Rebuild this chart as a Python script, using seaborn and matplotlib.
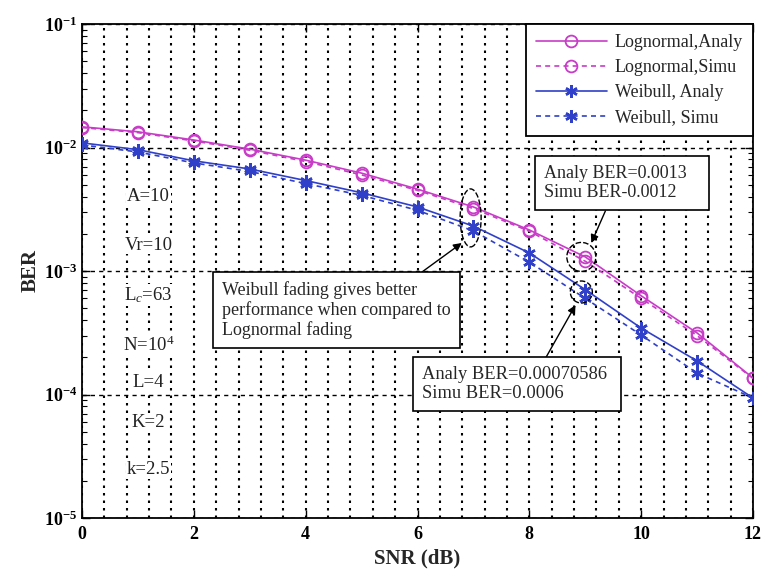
import numpy as np
import pandas as pd
import matplotlib
matplotlib.use("Agg")
import matplotlib.pyplot as plt
import matplotlib.ticker as mticker
import matplotlib.transforms as mtransforms
from matplotlib.patches import Ellipse
import seaborn as sns

# ---------------- data ----------------
snr = [0, 1, 2, 3, 4, 5, 6, 7, 8, 9, 10, 11, 12]
logn_analy = [0.0147, 0.0134, 0.0115, 0.0097, 0.0079, 0.0062, 0.0046, 0.0033, 0.00215, 0.0013, 0.00063, 0.000315, 0.000136]
logn_simu = [0.0145, 0.0132, 0.0113, 0.0095, 0.0077, 0.0060, 0.0045, 0.0032, 0.0021, 0.0012, 0.00060, 0.00030, 0.000135]
weib_analy = [0.0109, 0.0096, 0.0078, 0.0067, 0.0054, 0.0043, 0.0033, 0.00231, 0.0014, 0.00070586, 0.000345, 0.000187, 0.0000937]
weib_simu = [0.0105, 0.0092, 0.0075, 0.0064, 0.0051, 0.0041, 0.0031, 0.00211, 0.00118, 0.0006, 0.000303, 0.000149, 0.0000937]
series_names = ["Lognormal,Analy", "Lognormal,Simu", "Weibull, Analy", "Weibull, Simu"]
params = ["A=10", "Vr=10", "L$_c$=63", "N=10$^4$", "L=4", "K=2", "k=2.5"]
xticks = [0, 2, 4, 6, 8, 10, 12]

df = pd.DataFrame({
    "SNR": snr * 4,
    "BER": logn_analy + logn_simu + weib_analy + weib_simu,
    "Series": sum([[n] * len(snr) for n in series_names], []),
})

sns.set_theme(style="ticks")
plt.rcParams["font.family"] = ["Liberation Serif", "DejaVu Serif"]
plt.rcParams["mathtext.fontset"] = "custom"
plt.rcParams["mathtext.rm"] = "Liberation Serif"
plt.rcParams["mathtext.it"] = "Liberation Serif:italic"
plt.rcParams["mathtext.bf"] = "Liberation Serif:bold"

fig = plt.figure(figsize=(7.61, 5.73), dpi=100)
ax = fig.add_axes([82 / 761, 55 / 573, 671 / 761, 494 / 573])

mag = "#C83CC8"
blu = "#3040C8"
aster = (6, 2, 0)
styles = {
    "Lognormal,Analy": dict(color=mag, marker="o", linestyle="-", mfc="none", ms=8.5),
    "Lognormal,Simu": dict(color=mag, marker="o", linestyle=(0, (3, 2.5)), mfc="none", ms=8.5),
    "Weibull, Analy": dict(color=blu, marker=aster, linestyle="-", mfc=blu, ms=9),
    "Weibull, Simu": dict(color=blu, marker=aster, linestyle=(0, (3, 2.5)), mfc=blu, ms=9),
}
for name in series_names:
    st = styles[name]
    sub = df[df["Series"] == name]
    mew = 1.3 if st["marker"] == "o" else 1.8
    sns.lineplot(data=sub, x="SNR", y="BER", ax=ax, label=name, color=st["color"],
                 marker=st["marker"], linestyle=st["linestyle"], markerfacecolor=st["mfc"],
                 markeredgecolor=st["color"], markersize=st["ms"], linewidth=1.2,
                 markeredgewidth=mew, errorbar=None, zorder=3)

ax.set_yscale("log")
ax.set_xlim(0, 12)
ax.set_ylim(1e-5, 1e-1)
ax.set_xticks(xticks)
ax.xaxis.set_minor_locator(mticker.MultipleLocator(0.4))
ax.set_xticklabels([str(t) for t in xticks], fontsize=13, fontweight="bold")
ax.yaxis.set_major_locator(mticker.LogLocator(base=10, numticks=10))
ax.yaxis.set_minor_locator(mticker.LogLocator(base=10, subs=np.arange(2, 10), numticks=20))
ax.yaxis.set_minor_formatter(mticker.NullFormatter())
ax.yaxis.set_major_formatter(mticker.FuncFormatter(
    lambda v, p: r"$\mathbf{10^{%d}}$" % int(round(np.log10(v)))))
for lab in ax.get_yticklabels():
    lab.set_fontsize(13)

ax.tick_params(axis="both", which="both", direction="in", top=True, right=True, colors="black")
ax.tick_params(axis="x", which="major", length=6, width=1, pad=6)
ax.tick_params(axis="x", which="minor", length=0)
ax.tick_params(axis="y", which="major", length=6, width=1, labelsize=13)
ax.tick_params(axis="y", which="minor", length=3.5, width=0.8)

ax.grid(False)
ax.grid(True, which="both", axis="x", color="black", linestyle=(0, (1.2, 2.4)), linewidth=1.5)
ax.grid(True, which="major", axis="y", color="black", linestyle=(0, (3, 3)), linewidth=1.0)

for s in ax.spines.values():
    s.set_color("black")
    s.set_linewidth(1.3)

ax.set_xlabel("SNR (dB)", fontsize=15, fontweight="bold", labelpad=4)
ax.set_ylabel("BER", fontsize=15, fontweight="bold", labelpad=2)

leg = ax.legend(loc="upper right", fontsize=13, frameon=True, fancybox=False, framealpha=1,
                edgecolor="black", borderaxespad=0, handlelength=3.9, labelspacing=0.45,
                borderpad=0.55, handletextpad=0.45)
leg.get_frame().set_linewidth(1.3)

# parameter texts
py = [0.650, 0.5526, 0.4514, 0.350, 0.2753, 0.1943, 0.0972]
for t, y in zip(params, py):
    ax.text(0.099, y, t, transform=ax.transAxes, fontsize=13.5, ha="center", va="center",
            color="#222222", zorder=5,
            bbox=dict(facecolor="white", edgecolor="none", pad=0.5))

# ellipses highlighting points
def draw_ellipse(x, y, w, h):
    tr = fig.dpi_scale_trans + mtransforms.ScaledTranslation(x, y, ax.transData)
    e = Ellipse((0, 0), w, h, transform=tr, fill=False, edgecolor="black",
                linestyle=(0, (4, 1.5)), linewidth=1.0, zorder=4)
    ax.add_artist(e)

draw_ellipse(6.95, 0.00269, 0.21, 0.58)
draw_ellipse(8.93, 0.0013, 0.29, 0.29)
draw_ellipse(8.93, 0.000676, 0.22, 0.22)

box = dict(boxstyle="square,pad=0.5", facecolor="white", edgecolor="black", linewidth=1.2)
arrow = dict(arrowstyle="-|>", color="black", lw=1.0, mutation_scale=12, shrinkA=0, shrinkB=0)

ax.annotate("", xy=(0.759, 0.5567), xytext=(0.780, 0.6215), xycoords="axes fraction",
            textcoords="axes fraction", arrowprops=arrow, zorder=6)
ax.annotate("", xy=(0.7355, 0.431), xytext=(0.691, 0.324), xycoords="axes fraction",
            textcoords="axes fraction", arrowprops=arrow, zorder=6)
ax.annotate("", xy=(0.566, 0.5567), xytext=(0.5067, 0.498), xycoords="axes fraction",
            textcoords="axes fraction", arrowprops=arrow, zorder=6)

ax.text(0.8046, 0.679, "Analy BER=0.0013   \nSimu BER-0.0012", transform=ax.transAxes,
        fontsize=13, ha="center", va="center", multialignment="left", bbox=box, zorder=7,
        linespacing=1.15)
ax.text(0.6486, 0.2713, "Analy BER=0.00070586 \nSimu BER=0.0006", transform=ax.transAxes,
        fontsize=13.3, ha="center", va="center", multialignment="left", bbox=box, zorder=7,
        linespacing=1.15)
ax.text(0.3789, 0.421, "Weibull fading gives better\nperformance when compared to\nLognormal fading",
        transform=ax.transAxes, fontsize=13, ha="center", va="center", multialignment="left",
        bbox=box, zorder=7, linespacing=1.15)

fig.savefig("out.png", dpi=100)
